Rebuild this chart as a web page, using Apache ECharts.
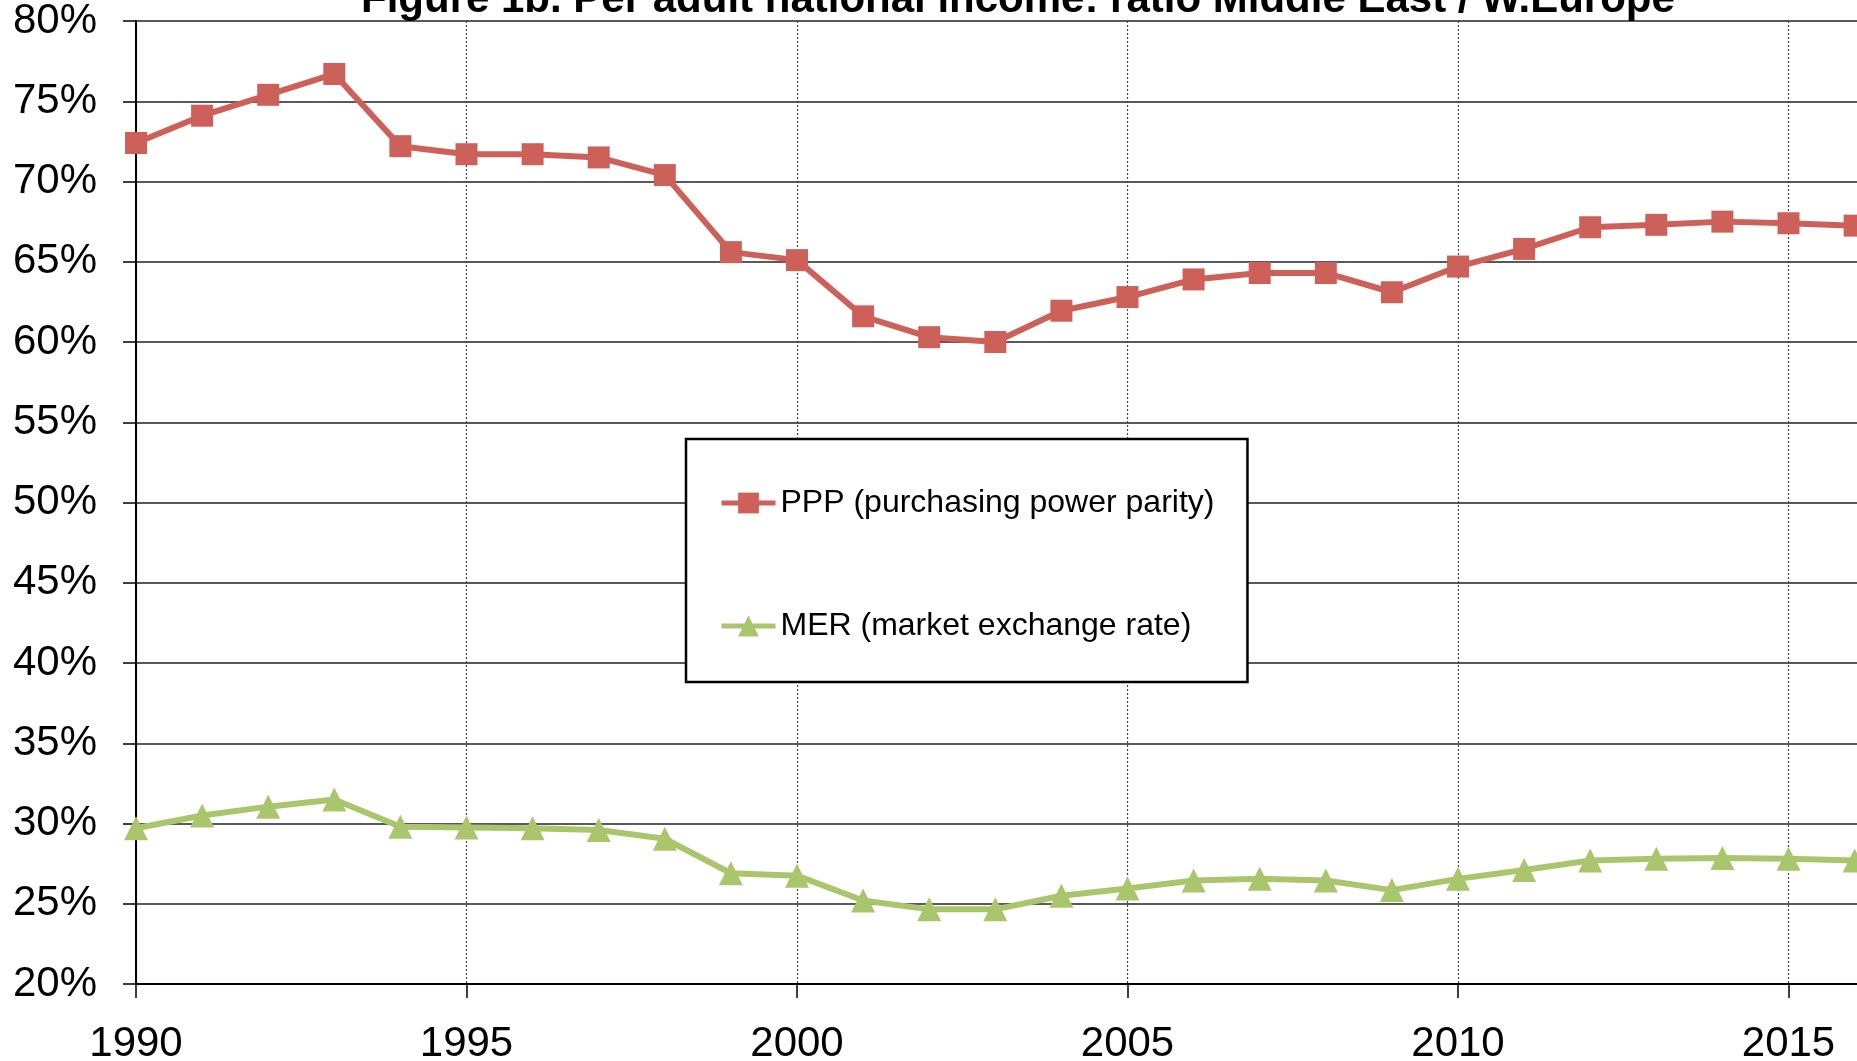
<!DOCTYPE html>
<html>
<head>
<meta charset="utf-8">
<script src="https://cdn.jsdelivr.net/npm/echarts@6/dist/echarts.min.js"></script>
<style>
  html, body { margin: 0; padding: 0; background: #fff; }
  #main { width: 1857px; height: 1061px; }
</style>
</head>
<body>
<div id="main"></div>
<script>
var years = [1990, 1991, 1992, 1993, 1994, 1995, 1996, 1997, 1998, 1999,
             2000, 2001, 2002, 2003, 2004, 2005, 2006, 2007, 2008, 2009,
             2010, 2011, 2012, 2013, 2014, 2015, 2016];

// ratio in %
var ppp = [72.4, 74.1, 75.4, 76.7, 72.2, 71.7, 71.7, 71.5, 70.4, 65.6,
           65.1, 61.6, 60.3, 60.0, 61.95, 62.8, 63.9, 64.3, 64.3, 63.1,
           64.7, 65.8, 67.15, 67.3, 67.5, 67.4, 67.25];
var mer = [29.7, 30.5, 31.05, 31.5, 29.8, 29.75, 29.7, 29.6, 29.05, 26.9,
           26.75, 25.2, 24.65, 24.65, 25.5, 25.95, 26.45, 26.55, 26.45, 25.85,
           26.55, 27.1, 27.7, 27.8, 27.85, 27.8, 27.7];

var seriesNames = ['PPP (purchasing power parity)', 'MER (market exchange rate)'];
var titleText = 'Figure 1b. Per adult national income: ratio Middle East / W.Europe';

function pairs(vals) {
    return years.map(function (y, i) { return [y, vals[i]]; });
}

var myChart = echarts.init(document.getElementById('main'));

var font = '"Liberation Sans", Arial, sans-serif';

var option = {
    backgroundColor: '#fff',
    animation: false,
    title: {
        text: titleText,
        left: 356,
        top: -26,
        textStyle: {
            fontFamily: font,
            fontSize: 42,
            fontWeight: 'bold',
            color: '#000'
        }
    },
    legend: {
        orient: 'vertical',
        left: 686,
        top: 439,
        padding: [48, 33, 40, 33],
        itemGap: 91,
        itemWidth: 54,
        itemHeight: 26,
        borderColor: '#000',
        borderWidth: 2.5,
        backgroundColor: '#fff',
        lineStyle: { width: 5 },
        textStyle: {
            fontFamily: font,
            fontSize: 32,
            lineHeight: 32,
            color: '#000'
        },
        data: seriesNames
    },
    grid: {
        left: 136,
        top: 21,
        bottom: 77,
        right: -262,
        outerBoundsMode: 'none',
        containLabel: false
    },
    xAxis: {
        type: 'value',
        min: 1990,
        max: 2020,
        interval: 5,
        axisLine: { show: true, lineStyle: { color: '#000', width: 2 } },
        axisTick: { show: true, length: 14, lineStyle: { color: '#000', width: 1.5 } },
        axisLabel: {
            margin: 39,
            fontFamily: font,
            fontSize: 42,
            color: '#000',
            formatter: function (v) { return String(v); }
        },
        splitLine: {
            show: true,
            lineStyle: { color: '#444', width: 1.2, type: [2, 2] }
        }
    },
    yAxis: {
        type: 'value',
        min: 20,
        max: 80,
        interval: 5,
        axisLine: { show: true, lineStyle: { color: '#000', width: 2 } },
        axisTick: { show: true, length: 13, lineStyle: { color: '#000', width: 1.5 } },
        axisLabel: {
            margin: 39,
            fontFamily: font,
            fontSize: 42,
            color: '#000',
            formatter: function (v) { return v + '%'; }
        },
        splitLine: {
            show: true,
            lineStyle: { color: '#222', width: 1.6 }
        }
    },
    series: [
        {
            name: seriesNames[0],
            type: 'line',
            data: pairs(ppp),
            symbol: 'rect',
            symbolSize: 22,
            lineStyle: { color: '#CD615A', width: 6 },
            itemStyle: { color: '#CD615A' }
        },
        {
            name: seriesNames[1],
            type: 'line',
            data: pairs(mer),
            symbol: 'triangle',
            symbolSize: 24,
            lineStyle: { color: '#AAC66D', width: 6 },
            itemStyle: { color: '#AAC66D' }
        }
    ]
};
myChart.setOption(option);
</script>
</body>
</html>
